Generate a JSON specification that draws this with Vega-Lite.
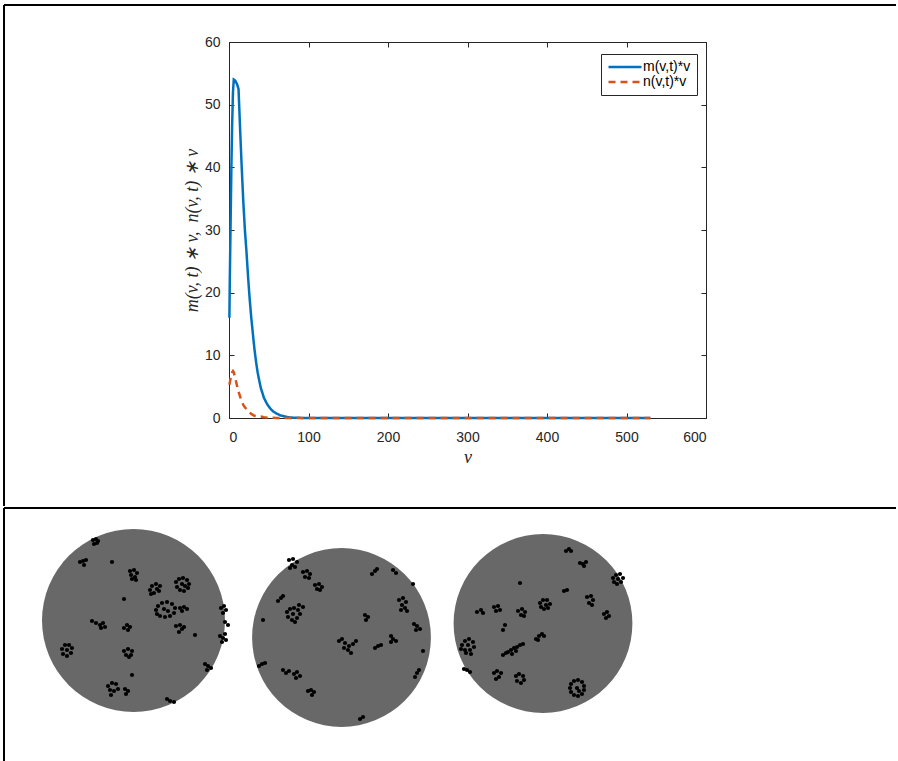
{
  "$schema": "https://vega.github.io/schema/vega-lite/v6.json",
  "background": "white",
  "padding": {"left": 2, "top": 3, "right": 0, "bottom": 0},
  "spacing": -11,
  "config": {
    "font": "Liberation Sans",
    "axis": {"grid": false, "domain": false, "tickColor": "#262626", "tickSize": -5, "tickWidth": 1,
      "labelFont": "Liberation Sans", "labelFontSize": 14, "labelColor": "#262626",
      "titleFont": "Liberation Serif", "titleFontSize": 18, "titleFontStyle": "italic", "titleFontWeight": "normal", "titleColor": "#262626"}
  },
  "datasets": {
    "curves": [
      {"series": "m(v,t)*v", "v": 0.5, "val": 16}, {"series": "m(v,t)*v", "v": 1, "val": 22}, {"series": "m(v,t)*v", "v": 2, "val": 31},
      {"series": "m(v,t)*v", "v": 3, "val": 40}, {"series": "m(v,t)*v", "v": 4, "val": 47}, {"series": "m(v,t)*v", "v": 5, "val": 52},
      {"series": "m(v,t)*v", "v": 6, "val": 54}, {"series": "m(v,t)*v", "v": 8, "val": 53.8}, {"series": "m(v,t)*v", "v": 10, "val": 53.3},
      {"series": "m(v,t)*v", "v": 12, "val": 52.5}, {"series": "m(v,t)*v", "v": 14, "val": 46}, {"series": "m(v,t)*v", "v": 16, "val": 40},
      {"series": "m(v,t)*v", "v": 18, "val": 34.5}, {"series": "m(v,t)*v", "v": 20, "val": 30}, {"series": "m(v,t)*v", "v": 22, "val": 26.5},
      {"series": "m(v,t)*v", "v": 24, "val": 22.5}, {"series": "m(v,t)*v", "v": 26, "val": 19}, {"series": "m(v,t)*v", "v": 28, "val": 16},
      {"series": "m(v,t)*v", "v": 30, "val": 13.5}, {"series": "m(v,t)*v", "v": 32, "val": 11}, {"series": "m(v,t)*v", "v": 34, "val": 9},
      {"series": "m(v,t)*v", "v": 36, "val": 7.3}, {"series": "m(v,t)*v", "v": 38, "val": 6}, {"series": "m(v,t)*v", "v": 40, "val": 4.8},
      {"series": "m(v,t)*v", "v": 44, "val": 3.2}, {"series": "m(v,t)*v", "v": 48, "val": 2.2}, {"series": "m(v,t)*v", "v": 52, "val": 1.5},
      {"series": "m(v,t)*v", "v": 56, "val": 1.0}, {"series": "m(v,t)*v", "v": 60, "val": 0.7}, {"series": "m(v,t)*v", "v": 65, "val": 0.4},
      {"series": "m(v,t)*v", "v": 70, "val": 0.25}, {"series": "m(v,t)*v", "v": 75, "val": 0.12}, {"series": "m(v,t)*v", "v": 80, "val": 0.06},
      {"series": "m(v,t)*v", "v": 90, "val": 0.02}, {"series": "m(v,t)*v", "v": 100, "val": 0}, {"series": "m(v,t)*v", "v": 530, "val": 0},
      {"series": "n(v,t)*v", "v": 0.5, "val": 5.3}, {"series": "n(v,t)*v", "v": 2, "val": 6.3}, {"series": "n(v,t)*v", "v": 4, "val": 7.3},
      {"series": "n(v,t)*v", "v": 5, "val": 7.5}, {"series": "n(v,t)*v", "v": 6, "val": 7.3}, {"series": "n(v,t)*v", "v": 8, "val": 6.3},
      {"series": "n(v,t)*v", "v": 10, "val": 5.2}, {"series": "n(v,t)*v", "v": 12, "val": 4.2}, {"series": "n(v,t)*v", "v": 14, "val": 3.4},
      {"series": "n(v,t)*v", "v": 16, "val": 2.7}, {"series": "n(v,t)*v", "v": 18, "val": 2.1}, {"series": "n(v,t)*v", "v": 20, "val": 1.7},
      {"series": "n(v,t)*v", "v": 24, "val": 1.1}, {"series": "n(v,t)*v", "v": 28, "val": 0.65}, {"series": "n(v,t)*v", "v": 32, "val": 0.35},
      {"series": "n(v,t)*v", "v": 36, "val": 0.25}, {"series": "n(v,t)*v", "v": 40, "val": 0.25}, {"series": "n(v,t)*v", "v": 44, "val": 0.12},
      {"series": "n(v,t)*v", "v": 50, "val": 0.04}, {"series": "n(v,t)*v", "v": 60, "val": 0}, {"series": "n(v,t)*v", "v": 530, "val": 0}
    ],
    "circles": [
      {"id": "1", "cx": 129.5, "cy": 112.5}, {"id": "2", "cx": 337.5, "cy": 129.5}, {"id": "3", "cx": 539, "cy": 115.5}
    ],
    "dots": [
      {"x":89,"y":32},{"x":92,"y":31},{"x":93,"y":35},{"x":90,"y":36},{"x":94,"y":33},
      {"x":76,"y":54},{"x":79,"y":53},{"x":82,"y":52},{"x":80,"y":57},
      {"x":108,"y":54},
      {"x":126,"y":63},{"x":130,"y":62},{"x":133,"y":65},{"x":127,"y":67},{"x":131,"y":69},{"x":128,"y":71},{"x":132,"y":72},
      {"x":146,"y":82},{"x":148,"y":78},{"x":152,"y":76},{"x":156,"y":78},{"x":155,"y":83},{"x":150,"y":85},{"x":147,"y":86},{"x":153,"y":81},
      {"x":172,"y":74},{"x":175,"y":71},{"x":179,"y":70},{"x":183,"y":72},{"x":185,"y":76},{"x":184,"y":80},{"x":180,"y":83},{"x":176,"y":82},{"x":173,"y":79},{"x":178,"y":76},{"x":181,"y":78},
      {"x":120,"y":91},
      {"x":152,"y":102},{"x":154,"y":98},{"x":158,"y":95},{"x":163,"y":94},{"x":168,"y":96},{"x":171,"y":100},{"x":170,"y":105},{"x":166,"y":108},{"x":161,"y":109},{"x":156,"y":108},{"x":153,"y":106},{"x":160,"y":101},{"x":164,"y":103},
      {"x":176,"y":100},{"x":180,"y":99},{"x":183,"y":101},{"x":178,"y":103},
      {"x":217,"y":100},{"x":220,"y":98},{"x":222,"y":102},{"x":219,"y":105},
      {"x":221,"y":114},{"x":224,"y":117},
      {"x":216,"y":128},{"x":219,"y":130},{"x":222,"y":132},{"x":218,"y":134},{"x":221,"y":126},
      {"x":88,"y":113},{"x":92,"y":115},{"x":96,"y":117},{"x":99,"y":115},{"x":97,"y":120},{"x":101,"y":119},
      {"x":120,"y":120},{"x":123,"y":117},{"x":126,"y":119},{"x":124,"y":122},
      {"x":172,"y":118},{"x":176,"y":117},{"x":178,"y":121},{"x":175,"y":124},{"x":180,"y":119},
      {"x":191,"y":127},
      {"x":58,"y":141},{"x":61,"y":137},{"x":65,"y":137},{"x":68,"y":140},{"x":67,"y":145},{"x":63,"y":148},{"x":59,"y":146},{"x":63,"y":142},
      {"x":120,"y":143},{"x":124,"y":141},{"x":128,"y":143},{"x":127,"y":147},{"x":122,"y":147},{"x":125,"y":149},
      {"x":128,"y":167},
      {"x":104,"y":178},{"x":108,"y":175},{"x":112,"y":176},{"x":106,"y":182},{"x":110,"y":183},{"x":107,"y":187},{"x":114,"y":181},
      {"x":121,"y":181},{"x":124,"y":183},{"x":122,"y":186},
      {"x":201,"y":156},{"x":204,"y":158},{"x":207,"y":160},{"x":203,"y":162},
      {"x":163,"y":191},{"x":166,"y":193},{"x":170,"y":194},
      {"x":285,"y":52},{"x":289,"y":51},{"x":293,"y":54},{"x":288,"y":57},{"x":291,"y":59},{"x":286,"y":60},
      {"x":299,"y":64},{"x":303,"y":63},{"x":306,"y":66},{"x":301,"y":69},{"x":305,"y":70},
      {"x":311,"y":77},{"x":315,"y":76},{"x":318,"y":79},{"x":313,"y":81},{"x":316,"y":82},
      {"x":368,"y":66},{"x":371,"y":63},{"x":373,"y":61},
      {"x":389,"y":62},{"x":392,"y":65},
      {"x":409,"y":76},
      {"x":274,"y":93},{"x":277,"y":90},{"x":279,"y":88},
      {"x":283,"y":104},{"x":286,"y":101},{"x":290,"y":100},{"x":294,"y":102},{"x":296,"y":106},{"x":293,"y":110},{"x":288,"y":112},{"x":284,"y":109},{"x":289,"y":106},{"x":291,"y":114},{"x":295,"y":97},{"x":299,"y":99},
      {"x":395,"y":92},{"x":399,"y":90},{"x":402,"y":94},{"x":398,"y":97},{"x":401,"y":100},{"x":397,"y":102},{"x":403,"y":103},
      {"x":259,"y":112},
      {"x":361,"y":107},{"x":364,"y":109},{"x":362,"y":112},
      {"x":410,"y":116},{"x":413,"y":118},{"x":416,"y":121},{"x":412,"y":122},
      {"x":335,"y":133},{"x":338,"y":131},{"x":341,"y":135},{"x":345,"y":138},{"x":349,"y":136},{"x":352,"y":133},{"x":344,"y":142},{"x":340,"y":140},{"x":347,"y":145},
      {"x":371,"y":140},{"x":374,"y":138},{"x":377,"y":137},
      {"x":387,"y":128},{"x":389,"y":131},{"x":392,"y":133},{"x":387,"y":134},
      {"x":419,"y":143},
      {"x":255,"y":158},{"x":258,"y":156},{"x":261,"y":155},
      {"x":279,"y":162},{"x":282,"y":165},{"x":285,"y":163},
      {"x":290,"y":166},{"x":293,"y":164},{"x":296,"y":168},{"x":292,"y":170},
      {"x":411,"y":169},{"x":413,"y":165},{"x":415,"y":162},
      {"x":304,"y":183},{"x":307,"y":182},{"x":310,"y":184},{"x":308,"y":187},
      {"x":356,"y":211},{"x":359,"y":209},
      {"x":562,"y":43},{"x":565,"y":41},{"x":567,"y":43},
      {"x":576,"y":55},{"x":579,"y":56},{"x":582,"y":54},{"x":580,"y":58},
      {"x":609,"y":70},{"x":612,"y":67},{"x":616,"y":66},{"x":619,"y":70},{"x":617,"y":74},{"x":613,"y":76},{"x":610,"y":74},{"x":614,"y":71},
      {"x":516,"y":75},
      {"x":560,"y":83},{"x":563,"y":82},
      {"x":583,"y":89},{"x":587,"y":88},{"x":589,"y":92},{"x":585,"y":95},{"x":588,"y":97},
      {"x":600,"y":106},{"x":603,"y":104},{"x":605,"y":108},{"x":602,"y":110},
      {"x":473,"y":104},{"x":477,"y":102},{"x":479,"y":105},
      {"x":490,"y":99},{"x":494,"y":98},{"x":496,"y":102},{"x":492,"y":103},
      {"x":514,"y":103},{"x":518,"y":101},{"x":521,"y":104},{"x":517,"y":107},{"x":520,"y":108},
      {"x":536,"y":95},{"x":539,"y":92},{"x":543,"y":92},{"x":546,"y":96},{"x":544,"y":100},{"x":540,"y":101},{"x":537,"y":99},{"x":542,"y":97},
      {"x":501,"y":117},{"x":499,"y":122},
      {"x":532,"y":131},{"x":535,"y":128},{"x":538,"y":126},{"x":540,"y":128},{"x":534,"y":132},
      {"x":504,"y":144},{"x":507,"y":142},{"x":510,"y":140},{"x":513,"y":139},{"x":516,"y":137},{"x":519,"y":136},{"x":508,"y":146},{"x":512,"y":143},
      {"x":499,"y":147},{"x":502,"y":145},
      {"x":458,"y":137},{"x":461,"y":133},{"x":465,"y":131},{"x":469,"y":134},{"x":470,"y":139},{"x":466,"y":142},{"x":461,"y":142},{"x":457,"y":141},{"x":464,"y":137},{"x":462,"y":145},{"x":467,"y":146},
      {"x":460,"y":161},{"x":463,"y":162},{"x":466,"y":164},
      {"x":490,"y":165},{"x":493,"y":163},{"x":497,"y":165},{"x":495,"y":169},{"x":492,"y":171},
      {"x":512,"y":168},{"x":515,"y":166},{"x":519,"y":168},{"x":520,"y":172},{"x":517,"y":175},{"x":513,"y":173},
      {"x":566,"y":180},{"x":567,"y":176},{"x":570,"y":173},{"x":574,"y":172},{"x":578,"y":174},{"x":580,"y":178},{"x":580,"y":182},{"x":578,"y":186},{"x":574,"y":188},{"x":570,"y":187},{"x":567,"y":184},{"x":573,"y":180},{"x":575,"y":183}
    ]
  },
  "vconcat": [
    {
      "width": 477,
      "height": 376,
      "view": {"stroke": "#262626", "strokeWidth": 1},
      "resolve": {"axis": {"x": "independent", "y": "independent"}},
      "layer": [
        {
          "data": {"name": "curves"},
          "mark": {"type": "line", "strokeWidth": 2.5},
          "encoding": {
            "x": {"field": "v", "type": "quantitative",
              "scale": {"domain": [0, 600], "nice": false, "zero": false},
              "axis": {"orient": "bottom", "values": [0, 100, 200, 300, 400, 500, 600], "title": "v", "labelPadding": 17, "titlePadding": 4}},
            "y": {"field": "val", "type": "quantitative",
              "scale": {"domain": [0, 60], "nice": false, "zero": false},
              "axis": {"orient": "left", "values": [0, 10, 20, 30, 40, 50, 60], "title": "m(v, t) ∗ v,\u2002n(v, t) ∗ v", "labelPadding": 14, "titlePadding": 3}},
            "color": {"field": "series", "type": "nominal",
              "scale": {"domain": ["m(v,t)*v", "n(v,t)*v"], "range": ["#0072BD", "#D95319"]},
              "legend": {"title": null, "orient": "none", "legendX": 372, "legendY": 12, "padding": 6,
                "strokeColor": "#262626", "fillColor": "white", "symbolType": "M-1,0H5", "symbolSize": 121,
                "symbolStrokeWidth": 2.5, "labelFont": "Liberation Sans", "labelFontSize": 14, "labelColor": "#000000",
                "labelOffset": 22, "rowPadding": 1}},
            "strokeDash": {"field": "series", "type": "nominal",
              "scale": {"domain": ["m(v,t)*v", "n(v,t)*v"], "range": [[1, 0], [7, 5]]},
              "legend": {"title": null, "orient": "none", "legendX": 372, "legendY": 12, "padding": 6,
                "strokeColor": "#262626", "fillColor": "white", "symbolType": "M-1,0H5", "symbolSize": 121,
                "symbolStrokeWidth": 2.5, "labelFont": "Liberation Sans", "labelFontSize": 14, "labelColor": "#000000",
                "labelOffset": 22, "rowPadding": 1}}
          }
        },
        {
          "data": {"values": [{}]},
          "mark": {"type": "rule", "color": "black", "strokeWidth": 2},
          "encoding": {
            "x": {"datum": -283.0, "type": "quantitative",
              "scale": {"domain": [0, 600], "nice": false, "zero": false},
              "axis": {"orient": "top", "values": [0, 100, 200, 300, 400, 500, 600], "labels": false, "title": null}},
            "x2": {"datum": 839.0},
            "y": {"datum": 65.904, "type": "quantitative",
              "scale": {"domain": [0, 60], "nice": false, "zero": false},
              "axis": {"orient": "right", "values": [0, 10, 20, 30, 40, 50, 60], "labels": false, "title": null}}
          }
        },
        {
          "data": {"values": [{}]},
          "mark": {"type": "rule", "color": "black", "strokeWidth": 2},
          "encoding": {
            "x": {"datum": -283.0, "type": "quantitative", "scale": {"domain": [0, 600], "nice": false, "zero": false}, "axis": null},
            "y": {"datum": 65.904, "type": "quantitative", "scale": {"domain": [0, 60], "nice": false, "zero": false}, "axis": null},
            "y2": {"datum": -14.04}
          }
        }
      ]
    },
    {
      "width": 667,
      "height": 253,
      "view": {"stroke": null},
      "layer": [
        {
          "data": {"name": "circles"},
          "transform": [{"filter": "datum.id == '1'"}],
          "mark": {"type": "point", "filled": true, "opacity": 1, "color": "#686868", "strokeWidth": 0, "size": 33489},
          "encoding": {
            "x": {"field": "cx", "type": "quantitative", "scale": {"domain": [225, 892], "nice": false, "zero": false}, "axis": null},
            "y": {"field": "cy", "type": "quantitative", "scale": {"domain": [0, 253], "nice": false, "zero": false, "reverse": true}, "axis": null}
          }
        },
        {
          "data": {"name": "circles"},
          "transform": [{"filter": "datum.id != '1'"}],
          "mark": {"type": "point", "filled": true, "opacity": 1, "color": "#686868", "strokeWidth": 0, "size": 31970},
          "encoding": {
            "x": {"field": "cx", "type": "quantitative", "scale": {"domain": [225, 892], "nice": false, "zero": false}, "axis": null},
            "y": {"field": "cy", "type": "quantitative", "scale": {"domain": [0, 253], "nice": false, "zero": false, "reverse": true}, "axis": null}
          }
        },
        {
          "data": {"name": "dots"},
          "mark": {"type": "point", "filled": true, "opacity": 1, "color": "black", "size": 18, "strokeWidth": 0},
          "encoding": {
            "x": {"field": "x", "type": "quantitative", "scale": {"domain": [225, 892], "nice": false, "zero": false}, "axis": null},
            "y": {"field": "y", "type": "quantitative", "scale": {"domain": [0, 253], "nice": false, "zero": false, "reverse": true}, "axis": null}
          }
        },
        {
          "data": {"values": [{}]},
          "mark": {"type": "rule", "color": "black", "strokeWidth": 2},
          "encoding": {
            "x": {"datum": 0, "type": "quantitative", "scale": {"domain": [225, 892], "nice": false, "zero": false}, "axis": null},
            "y": {"datum": 0, "type": "quantitative", "scale": {"domain": [0, 253], "nice": false, "zero": false, "reverse": true}, "axis": null},
            "y2": {"datum": 253}
          }
        },
        {
          "data": {"values": [{}]},
          "mark": {"type": "rule", "color": "black", "strokeWidth": 2},
          "encoding": {
            "x": {"datum": 0, "type": "quantitative", "scale": {"domain": [225, 892], "nice": false, "zero": false}, "axis": null},
            "x2": {"datum": 892},
            "y": {"datum": 0, "type": "quantitative", "scale": {"domain": [0, 253], "nice": false, "zero": false, "reverse": true}, "axis": null}
          }
        }
      ]
    }
  ]
}
